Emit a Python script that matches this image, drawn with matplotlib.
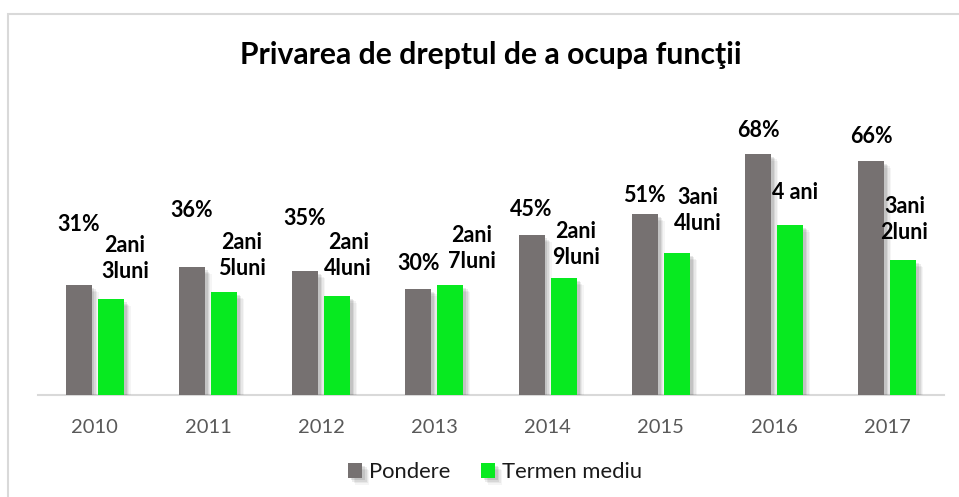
import matplotlib
matplotlib.use("Agg")
import matplotlib.pyplot as plt
import matplotlib.patheffects as pe
from matplotlib.patches import Rectangle
import numpy as np

# ---- data ----
years = ['2010', '2011', '2012', '2013', '2014', '2015', '2016', '2017']
pondere = [31, 36, 35, 30, 45, 51, 68, 66]               # %
termen_luni = [27, 29, 28, 31, 33, 40, 48, 38]           # months
pondere_labels = ['31%', '36%', '35%', '30%', '45%', '51%', '68%', '66%']
termen_labels = ['2ani\n3luni', '2ani\n5luni', '2ani\n4luni', '2ani\n7luni',
                 '2ani\n9luni', '3ani\n4luni', '4 ani', '3ani\n2luni']
series_names = ['Pondere', 'Termen mediu']
title = 'Privarea de dreptul de a ocupa funcţii'

# ---- label placement (pixels, relative to bar top centre) ----
gray_dy = [61, 57, 52, 25, 26, 19, 23, 24]
green_dx = [14, 18, 11, 21, 12, 21, 5, 1]
green_dy = [41, 37, 40, 37, 34, 43, 32, 41]

GRAY = '#767171'
GREEN = '#07EA20'
FONT = 'Lato'

W, H = 959, 497
fig = plt.figure(figsize=(W / 100, H / 100), dpi=100)
fig.patch.set_facecolor('white')

# outer frame (light border)
fig.add_artist(Rectangle((8 / W, -0.1), 1.2, (H - 14) / H + 0.1,
                         transform=fig.transFigure, fill=False,
                         edgecolor='#D9D9D9', linewidth=1.5))

ax = fig.add_axes([38 / W, (H - 395.3) / H, 906 / W, 284.2 / H])
ax.set_xlim(-0.5, 7.5)
ax.set_ylim(0, 80)

x = np.arange(len(years))
bw = 0.23
off = 0.142

shadow = [pe.SimplePatchShadow(offset=(d, -d), shadow_rgbFace='#000000', alpha=a)
          for d, a in ((5, 0.04), (4, 0.05), (3, 0.07), (2, 0.09))] + [pe.Normal()]

b1 = ax.bar(x - off, pondere, bw, color=GRAY, label=series_names[0], zorder=3)
b2 = ax.bar(x + off, termen_luni, bw, color=GREEN, label=series_names[1], zorder=3)
for b in list(b1) + list(b2):
    b.set_path_effects(shadow)

for i in range(len(years)):
    ax.annotate(pondere_labels[i], xy=(x[i] - off, pondere[i]),
                xytext=(0, gray_dy[i]), textcoords='offset pixels',
                ha='center', va='center', fontsize=15.5, fontweight='bold',
                family=FONT, color='black', zorder=5)
    ax.annotate(termen_labels[i], xy=(x[i] + off, termen_luni[i]),
                xytext=(green_dx[i], green_dy[i]), textcoords='offset pixels',
                ha='center', va='center', fontsize=15.5, fontweight='bold',
                family=FONT, color='black', linespacing=1.3, zorder=5)

for s in ['top', 'right', 'left']:
    ax.spines[s].set_visible(False)
ax.spines['bottom'].set_color('#D9D9D9')
ax.spines['bottom'].set_linewidth(1.5)
ax.set_yticks([])
ax.set_xticks(x)
ax.set_xticklabels(years, fontsize=14.5, family=FONT, color='#595959')
ax.tick_params(axis='x', length=0, pad=17)

fig.text(491 / W, 1 - 55 / H, title, ha='center', va='center',
         fontsize=21.7, fontweight='bold', family=FONT, color='black')

leg = fig.legend(handles=[b1, b2], labels=series_names, loc='center',
                 bbox_to_anchor=(495 / W, 1 - 472 / H), ncol=2, frameon=False,
                 prop={'family': FONT, 'size': 15.8}, handlelength=0.65,
                 handleheight=0.65, handletextpad=0.3, columnspacing=1.4)
for t in leg.get_texts():
    t.set_color('#1a1a1a')

fig.savefig('out.png', dpi=100, facecolor='white')
